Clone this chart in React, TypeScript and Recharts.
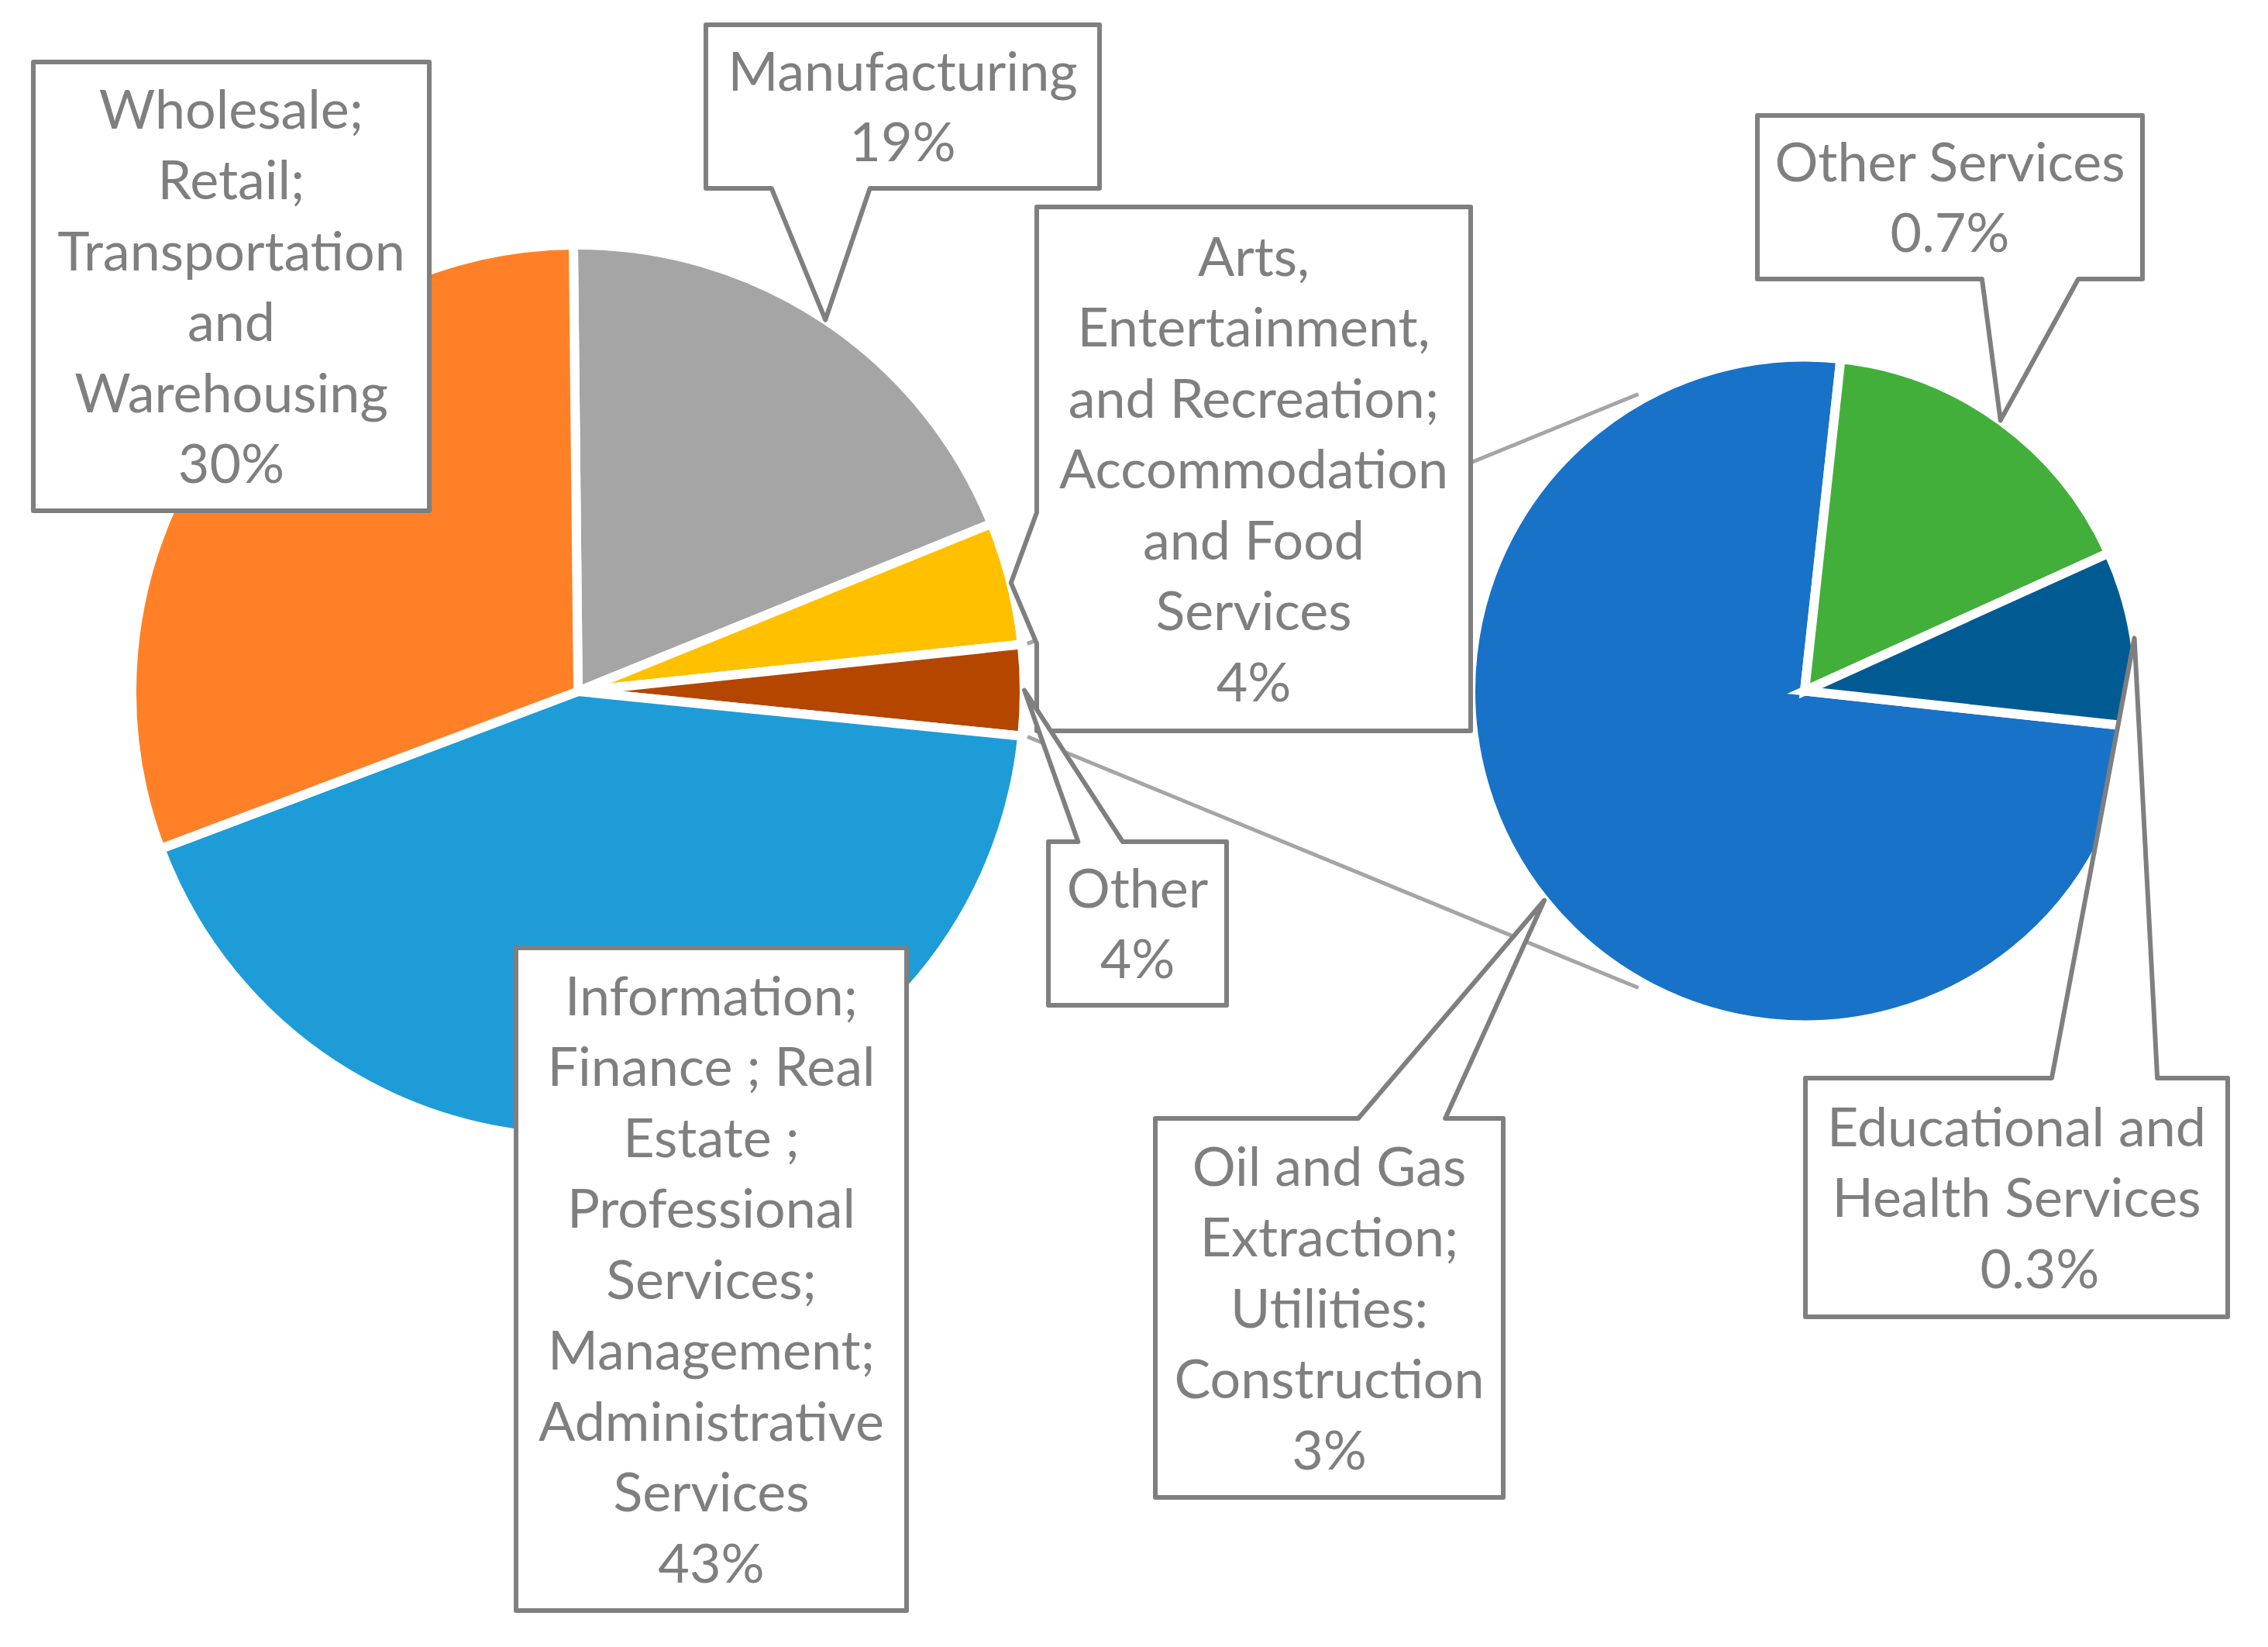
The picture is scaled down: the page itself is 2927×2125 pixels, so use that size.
import React from 'react';
import { PieChart, Pie, Cell } from 'recharts';

// ---------- data ----------
const primaryNames = [
  'Manufacturing',
  'Arts, Entertainment, and Recreation; Accommodation and Food Services',
  'Other',
  'Information; Finance ; Real Estate ; Professional Services; Management; Administrative Services',
  'Wholesale; Retail; Transportation and Warehousing',
];
const primaryValues = [19.05, 4.46, 3.28, 42.7, 30.6];
const primaryPercentLabels = ['19%', '4%', '4%', '43%', '30%'];
const primaryLabelLines = [
  ['Manufacturing'],
  ['Arts,', 'Entertainment,', 'and Recreation;', 'Accommodation', 'and Food', 'Services'],
  ['Other'],
  ['Information;', 'Finance ; Real', 'Estate ;', 'Professional', 'Services;', 'Management;', 'Administrative', 'Services'],
  ['Wholesale;', 'Retail;', 'Transportation', 'and', 'Warehousing'],
];
const primaryColors = ['#A5A5A5', '#FFC000', '#B44600', '#1E9CD8', '#FF8026'];

const secondaryNames = [
  'Oil and Gas Extraction; Utilities: Construction',
  'Other Services',
  'Educational and Health Services',
];
const secondaryValues = [3.0, 0.66, 0.34];
const secondaryPercentLabels = ['3%', '0.7%', '0.3%'];
const secondaryLabelLines = [
  ['Oil and Gas', 'Extraction;', 'Utilities:', 'Construction'],
  ['Other Services'],
  ['Educational and', 'Health Services'],
];
const secondaryColors = ['#1872C8', '#43AF3B', '#005B93'];

const primaryData = primaryNames.map((name, i) => ({ name, value: primaryValues[i] }));
const secondaryData = secondaryNames.map((name, i) => ({ name, value: secondaryValues[i] }));

// ---------- layout ----------
const W = 2927;
const H = 2125;
const LEFT = { cx: 746, cy: 892, r: 576, start: 90.6 };
const RIGHT = { cx: 2329, cy: 891.5, r: 431, start: -6.2 };
const SERIES_ANGLE = 119.25;
const OTHER_INDEX = primaryNames.indexOf('Other');
const TEXT_COLOR = '#7F7F7F';
const FONT = 'Lato, "Open Sans", sans-serif';
const FONT_SIZE = 70;
const LINE_H = 91.5;
const CAP_HALF = 25;

type Box = { l: number; t: number; r: number; b: number; pctDx?: number };
const primaryBoxes: Box[] = [
  { l: 911, t: 32, r: 1419, b: 243 },
  { l: 1338, t: 267, r: 1898, b: 943 },
  { l: 1353, t: 1086, r: 1583, b: 1297 },
  { l: 666, t: 1223, r: 1170, b: 2078 },
  { l: 43, t: 80, r: 554, b: 659 },
];
const secondaryBoxes: Box[] = [
  { l: 1491, t: 1443, r: 1940, b: 1932 },
  { l: 2268, t: 149, r: 2765, b: 360 },
  { l: 2330, t: 1391, r: 2875, b: 1699, pctDx: 30 },
];

const RAD = Math.PI / 180;
const polar = (cx: number, cy: number, r: number, a: number) => ({
  x: cx + r * Math.cos(-a * RAD),
  y: cy + r * Math.sin(-a * RAD),
});

// OOXML wedgeRectCallout geometry
function calloutPath(bx: Box, xt: number, yt: number) {
  const { l, t, r, b } = bx;
  const w = r - l;
  const h = b - t;
  const hc = (l + r) / 2;
  const vc = (t + b) / 2;
  if (xt >= l && xt <= r && yt >= t && yt <= b) {
    return `M${l},${t} L${r},${t} L${r},${b} L${l},${b} Z`;
  }
  const dx = xt - hc;
  const dy = yt - vc;
  const dq = (dx * h) / w;
  const dz = Math.abs(dy) - Math.abs(dq);
  const x1 = l + (w * (dx > 0 ? 7 : 2)) / 12;
  const x2 = l + (w * (dx > 0 ? 10 : 5)) / 12;
  const y1 = t + (h * (dy > 0 ? 7 : 2)) / 12;
  const y2 = t + (h * (dy > 0 ? 10 : 5)) / 12;
  const top = dz > 0 && dy < 0;
  const bottom = dz > 0 && dy >= 0;
  const left = dz <= 0 && dx < 0;
  const right = dz <= 0 && dx >= 0;
  let d = `M${l},${t}`;
  if (top) d += ` L${x1},${t} L${xt},${yt} L${x2},${t}`;
  d += ` L${r},${t}`;
  if (right) d += ` L${r},${y1} L${xt},${yt} L${r},${y2}`;
  d += ` L${r},${b}`;
  if (bottom) d += ` L${x2},${b} L${xt},${yt} L${x1},${b}`;
  d += ` L${l},${b}`;
  if (left) d += ` L${l},${y2} L${xt},${yt} L${l},${y1}`;
  d += ' Z';
  return d;
}

function makeLabel(boxes: Box[], lineSets: string[][], pcts: string[]) {
  return (props: any) => {
    const i = props.index;
    const bx = boxes[i];
    if (!bx) return null;
    const tip = polar(props.cx, props.cy, props.outerRadius, props.midAngle);
    const lines = [...lineSets[i], pcts[i]];
    const n = lines.length;
    const hc = (bx.l + bx.r) / 2;
    const vc = (bx.t + bx.b) / 2;
    return (
      <g key={`callout-${i}`}>
        <path
          d={calloutPath(bx, tip.x, tip.y)}
          fill="#FFFFFF"
          stroke={TEXT_COLOR}
          strokeWidth={6}
          strokeLinejoin="round"
        />
        <text textAnchor="middle" fontFamily={FONT} fontSize={FONT_SIZE} fill={TEXT_COLOR}>
          {lines.map((ln, k) => (
            <tspan
              key={k}
              x={hc + (k === n - 1 && bx.pctDx ? bx.pctDx : 0)}
              y={vc + (k - (n - 1) / 2) * LINE_H + CAP_HALF}
            >
              {ln}
            </tspan>
          ))}
        </text>
      </g>
    );
  };
}

const renderSeriesLines = (props: any) => {
  if (props.index !== OTHER_INDEX) return null;
  const { cx, cy, outerRadius, startAngle, endAngle } = props;
  const a1 = polar(cx, cy, outerRadius + 7, startAngle);
  const b1 = polar(cx, cy, outerRadius + 7, endAngle);
  const up = startAngle > endAngle ? a1 : b1;
  const dn = startAngle > endAngle ? b1 : a1;
  const a2 = polar(RIGHT.cx, RIGHT.cy, RIGHT.r + 8, SERIES_ANGLE);
  const b2 = polar(RIGHT.cx, RIGHT.cy, RIGHT.r + 8, -SERIES_ANGLE);
  return (
    <g key="series-lines">
      <line x1={up.x} y1={up.y} x2={a2.x} y2={a2.y} stroke="#A5A5A5" strokeWidth={5} />
      <line x1={dn.x} y1={dn.y} x2={b2.x} y2={b2.y} stroke="#A5A5A5" strokeWidth={5} />
    </g>
  );
};

export default function App() {
  return (
    <div style={{ position: 'absolute', left: 0, top: 0, width: W, height: H, background: '#FFFFFF' }}>
      <PieChart width={W} height={H} margin={{ top: 0, right: 0, bottom: 0, left: 0 }}>
        {/* invisible copy of the primary pie, used only for the series lines */}
        <Pie
          data={primaryData}
          dataKey="value"
          nameKey="name"
          cx={LEFT.cx}
          cy={LEFT.cy}
          outerRadius={LEFT.r}
          startAngle={LEFT.start}
          endAngle={LEFT.start - 360}
          fill="none"
          stroke="none"
          isAnimationActive={false}
          label={renderSeriesLines}
          labelLine={false}
        >
          {primaryData.map((d) => (
            <Cell key={d.name} fill="none" stroke="none" />
          ))}
        </Pie>
        <Pie
          data={primaryData}
          dataKey="value"
          nameKey="name"
          cx={LEFT.cx}
          cy={LEFT.cy}
          outerRadius={LEFT.r}
          startAngle={LEFT.start}
          endAngle={LEFT.start - 360}
          stroke="#FFFFFF"
          strokeWidth={12}
          isAnimationActive={false}
          label={makeLabel(primaryBoxes, primaryLabelLines, primaryPercentLabels)}
          labelLine={false}
        >
          {primaryData.map((d, i) => (
            <Cell key={d.name} fill={primaryColors[i]} stroke="#FFFFFF" strokeWidth={12} />
          ))}
        </Pie>
        <Pie
          data={secondaryData}
          dataKey="value"
          nameKey="name"
          cx={RIGHT.cx}
          cy={RIGHT.cy}
          outerRadius={RIGHT.r}
          startAngle={RIGHT.start}
          endAngle={RIGHT.start - 360}
          stroke="#FFFFFF"
          strokeWidth={12}
          isAnimationActive={false}
          label={makeLabel(secondaryBoxes, secondaryLabelLines, secondaryPercentLabels)}
          labelLine={false}
        >
          {secondaryData.map((d, i) => (
            <Cell key={d.name} fill={secondaryColors[i]} stroke="#FFFFFF" strokeWidth={12} />
          ))}
        </Pie>
      </PieChart>
    </div>
  );
}
